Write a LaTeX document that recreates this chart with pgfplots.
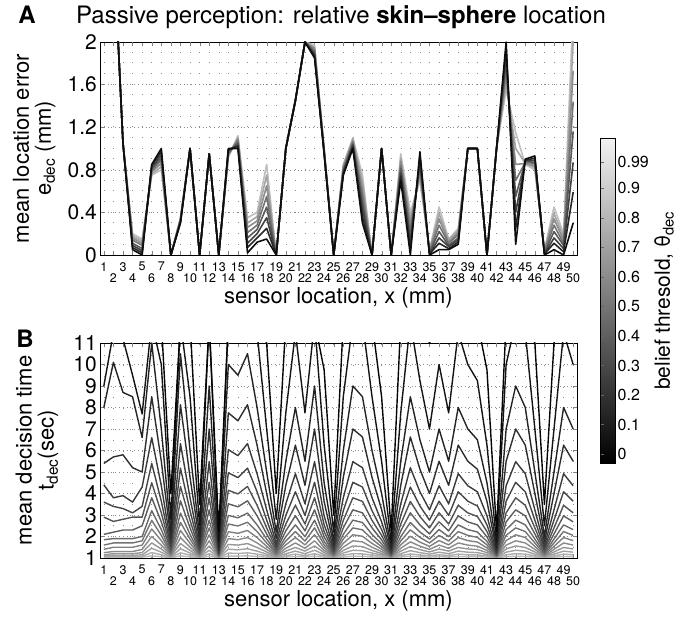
\documentclass[border=0pt]{standalone}
\usepackage{fontspec}
\setmainfont{TeX Gyre Heros}
\usepackage{pgfplots}
\pgfplotsset{compat=1.18}
\usepackage{pgfplotstable}

\pgfplotstableread{
x a0 a1 a2 a3 a4 a5 a6 a7
1 3 3 3 3 3 3 3 3
2 2.95 2.95 2.95 2.95 2.95 2.95 2.95 2.95
3 1.05 1.05 1.05 1.05 1.05 1.05 1.05 1.05
4 .20 .18 .16 .14 .11 .09 .07 .05
5 .15 .13 .11 .09 .06 .04 .02 0
6 .75 .76 .78 .79 .81 .82 .84 .85
7 .80 .83 .86 .89 .91 .94 .97 1.0
8 0 0 0 0 0 0 0 0
9 .35 .34 .34 .33 .32 .31 .31 .30
10 1 1 1 1 1 1 1 1
11 0 0 0 0 0 0 0 0
12 .95 .95 .95 .95 .95 .95 .95 .95
13 0 0 0 0 0 0 0 0
14 .92 .93 .94 .95 .97 .98 .99 1.0
15 1.12 1.10 1.09 1.07 1.05 1.03 1.02 1.0
16 .35 .30 .26 .21 .16 .11 .07 .02
17 .40 .36 .32 .28 .24 .20 .16 .12
18 .85 .75 .65 .55 .45 .35 .25 .15
19 0 0 0 0 0 0 0 0
20 1 1 1 1 1 1 1 1
21 1.45 1.45 1.45 1.45 1.45 1.45 1.45 1.45
22 2 2 2 2 2 2 2 2
23 1.97 1.95 1.94 1.92 1.90 1.88 1.87 1.85
24 1.0 .99 .99 .98 .97 .96 .96 .95
25 0 0 0 0 0 0 0 0
26 .85 .84 .82 .81 .79 .78 .76 .75
27 1.10 1.09 1.07 1.06 1.04 1.03 1.01 1.0
28 .75 .69 .62 .56 .49 .43 .36 .30
29 0 0 0 0 0 0 0 0
30 1 1 1 1 1 1 1 1
31 0 0 0 0 0 0 0 0
32 .95 .91 .88 .84 .81 .77 .74 .70
33 .40 .34 .29 .23 .17 .11 .06 0
34 .70 .74 .78 .82 .85 .89 .93 .97
35 .05 .04 .04 .03 .02 .01 .01 0
36 .45 .39 .34 .28 .22 .16 .11 .05
37 .15 .14 .12 .11 .09 .08 .06 .05
38 .25 .23 .21 .19 .16 .14 .12 .10
39 1 1 1 1 1 1 1 1
40 1 1 1 1 1 1 1 1
41 0 0 0 0 0 0 0 0
42 1 1 1 1 1 1 1 1
43 1.55 1.61 1.68 1.74 1.81 1.87 1.94 2.0
44 1.15 1.0 .85 .70 .55 .40 .25 .10
45 .85 .86 .86 .87 .88 .89 .89 .90
46 .80 .82 .84 .86 .87 .89 .91 .93
47 .05 .04 .04 .03 .02 .01 .01 0
48 .45 .39 .34 .28 .22 .16 .11 .05
49 .20 .17 .14 .11 .09 .06 .03 0
50 2.3 2.01 1.73 1.44 1.16 .87 .59 .30
}\tA

\pgfplotstableread{
x b0 b1 b2 b3 b4 b5 b6 b7 b8 b9 b10 b11 b12 b13 b14 b15
1 1.03 1.06 1.1 1.15 1.25 1.4 1.6 1.85 2.1 2.9 3.6 4.4 5.4 8.0 9.0 12
2 1.03 1.07 1.12 1.2 1.3 1.5 1.7 1.9 2.2 2.7 3.4 3.8 5.7 10.1 11.5 12
3 1.03 1.07 1.12 1.2 1.3 1.5 1.7 1.9 2.3 2.8 3.3 3.9 5.8 8.7 11.2 12
4 1.03 1.07 1.12 1.2 1.3 1.5 1.7 1.9 2.3 2.9 3.1 3.6 5.2 8.5 9.5 12
5 1.04 1.08 1.15 1.25 1.4 1.6 1.8 2.0 2.5 2.9 3.4 4.3 5.0 6.6 7.7 12
6 1.1 1.25 1.45 1.7 2.0 2.35 2.75 3.2 3.8 4.5 5.4 6.6 8.5 11 12 12
7 1.06 1.15 1.27 1.42 1.6 1.81 2.05 2.32 2.68 3.1 3.64 4.36 5.5 7 10 12
8 1.01 1.03 1.05 1.08 1.12 1.16 1.21 1.26 1.34 1.42 1.53 1.67 1.9 2.2 2.8 4
9 1.1 1.24 1.43 1.67 1.95 2.28 2.66 3.09 3.66 4.33 5.18 6.32 8.13 10.5 12 12
10 1.05 1.13 1.23 1.35 1.5 1.68 1.88 2.1 2.4 2.75 3.2 3.8 4.75 6 8.5 12
11 1.01 1.03 1.05 1.07 1.1 1.14 1.18 1.22 1.28 1.35 1.44 1.56 1.75 2 2.5 3.5
12 1.08 1.2 1.36 1.56 1.8 2.08 2.4 2.76 3.24 3.8 4.52 5.48 7 9 12 12
13 1.01 1.01 1.02 1.04 1.05 1.07 1.09 1.11 1.14 1.18 1.22 1.28 1.38 1.5 1.75 2.25
14 1.09 1.23 1.41 1.63 1.9 2.22 2.58 2.98 3.52 4.15 4.96 6.04 7.75 10 12 12
15 1.09 1.21 1.38 1.6 1.85 2.15 2.49 2.87 3.38 3.98 4.74 5.76 7.38 9.5 12 12
16 1.1 1.24 1.43 1.67 1.95 2.28 2.66 3.09 3.66 4.33 5.18 6.32 8.13 10.5 12 12
17 1.07 1.18 1.32 1.49 1.7 1.95 2.23 2.54 2.96 3.45 4.08 4.92 6.25 8 11.5 12
18 1.04 1.1 1.18 1.28 1.4 1.54 1.7 1.88 2.12 2.4 2.76 3.24 4 5 7 11
19 1.01 1.03 1.05 1.08 1.12 1.16 1.21 1.26 1.34 1.42 1.53 1.67 1.9 2.2 2.8 4
20 1.05 1.11 1.2 1.32 1.45 1.61 1.79 1.99 2.26 2.58 2.98 3.52 4.38 5.5 7.75 12
21 1.07 1.18 1.32 1.49 1.7 1.95 2.23 2.54 2.96 3.45 4.08 4.92 6.25 8 11.5 12
22 1.05 1.11 1.2 1.32 1.45 1.61 1.79 1.99 2.26 2.58 2.98 3.52 4.38 5.5 7.75 12
23 1.08 1.2 1.36 1.56 1.8 2.08 2.4 2.76 3.24 3.8 4.52 5.48 7 9 12 12
24 1.04 1.09 1.16 1.25 1.35 1.47 1.61 1.77 1.98 2.23 2.54 2.96 3.63 4.5 6.25 9.75
25 1.01 1.02 1.04 1.06 1.08 1.11 1.14 1.18 1.22 1.28 1.35 1.45 1.6 1.8 2.2 3
26 1.05 1.13 1.23 1.35 1.5 1.68 1.88 2.1 2.4 2.75 3.2 3.8 4.75 6 8.5 12
27 1.08 1.2 1.36 1.56 1.8 2.08 2.4 2.76 3.24 3.8 4.52 5.48 7 9 12 12
28 1.08 1.19 1.34 1.53 1.75 2.01 2.31 2.65 3.1 3.63 4.3 5.2 6.63 8.5 12 12
29 1.05 1.13 1.23 1.35 1.5 1.68 1.88 2.1 2.4 2.75 3.2 3.8 4.75 6 8.5 12
30 1.03 1.08 1.14 1.21 1.3 1.41 1.53 1.66 1.84 2.05 2.32 2.68 3.25 4 5.5 8.5
31 1.01 1.01 1.02 1.04 1.05 1.07 1.09 1.11 1.14 1.18 1.22 1.28 1.38 1.5 1.75 2.25
32 1.05 1.11 1.2 1.32 1.45 1.61 1.79 1.99 2.26 2.58 2.98 3.52 4.38 5.5 7.75 12
33 1.08 1.19 1.34 1.53 1.75 2.01 2.31 2.65 3.1 3.63 4.3 5.2 6.63 8.5 12 12
34 1.06 1.14 1.25 1.39 1.55 1.74 1.96 2.21 2.54 2.93 3.42 4.08 5.13 6.5 9.25 12
35 1.04 1.1 1.18 1.28 1.4 1.54 1.7 1.88 2.12 2.4 2.76 3.24 4 5 7 11
36 1.06 1.15 1.27 1.42 1.6 1.81 2.05 2.32 2.68 3.1 3.64 4.36 5.5 7 10 12
37 1.05 1.11 1.2 1.32 1.45 1.61 1.79 1.99 2.26 2.58 2.98 3.52 4.38 5.5 7.75 12
38 1.07 1.18 1.32 1.49 1.7 1.95 2.23 2.54 2.96 3.45 4.08 4.92 6.25 8 11.5 12
39 1.06 1.15 1.27 1.42 1.6 1.81 2.05 2.32 2.68 3.1 3.64 4.36 5.5 7 10 12
40 1.06 1.14 1.25 1.39 1.55 1.74 1.96 2.21 2.54 2.93 3.42 4.08 5.13 6.5 9.25 12
41 1.04 1.09 1.16 1.25 1.35 1.47 1.61 1.77 1.98 2.23 2.54 2.96 3.63 4.5 6.25 9.75
42 1.01 1.01 1.02 1.04 1.05 1.07 1.09 1.11 1.14 1.18 1.22 1.28 1.38 1.5 1.75 2.25
43 1.06 1.15 1.27 1.42 1.6 1.81 2.05 2.32 2.68 3.1 3.64 4.36 5.5 7 10 12
44 1.08 1.2 1.36 1.56 1.8 2.08 2.4 2.76 3.24 3.8 4.52 5.48 7 9 12 12
45 1.07 1.18 1.32 1.49 1.7 1.95 2.23 2.54 2.96 3.45 4.08 4.92 6.25 8 11.5 12
46 1.04 1.1 1.18 1.28 1.4 1.54 1.7 1.88 2.12 2.4 2.76 3.24 4 5 7 11
47 1.01 1.03 1.05 1.07 1.1 1.14 1.18 1.22 1.28 1.35 1.44 1.56 1.75 2 2.5 3.5
48 1.04 1.1 1.18 1.28 1.4 1.54 1.7 1.88 2.12 2.4 2.76 3.24 4 5 7 11
49 1.07 1.18 1.32 1.49 1.7 1.95 2.23 2.54 2.96 3.45 4.08 4.92 6.25 8 11.5 12
50 1.06 1.15 1.27 1.42 1.6 1.81 2.05 2.32 2.68 3.1 3.64 4.36 5.5 7 10 12
}\tB

\newcommand\fs[1]{\fontsize{#1}{#1}\selectfont}

\pgfplotsset{
  common/.style={
    scale only axis, width=477pt,
    xmin=0.6, xmax=50.4,
    xtick={1,3,...,49},
    extra x ticks={2,4,...,50},
    extra x tick style={grid=major, xticklabel style={yshift=-11pt}},
    tick align=inside, tick pos=both,
    major tick length=4pt,
    grid=major,
    major x grid style={black!45, line width=0.5pt, dash pattern=on 0.8pt off 9.85pt},
    major y grid style={black!45, line width=0.5pt, dash pattern=on 0.8pt off 3pt},
    /pgf/number format/assume math mode=true,
    xticklabel style={font=\fs{12.5}, inner xsep=0pt, inner ysep=1pt, yshift=-6pt},
    yticklabel style={font=\fs{21}, inner sep=1pt, xshift=-2pt},
    label style={font=\fs{22}},
    xlabel={sensor location, x (mm)},
    xlabel style={at={(axis description cs:0.5,0)}, anchor=center, yshift=-43pt},
    axis line style={line width=0.8pt},
    every axis plot/.append style={line join=round},
  }
}

\begin{document}
\begin{tikzpicture}
\useasboundingbox (0,0) rectangle (678pt,620pt);

\begin{axis}[common,
  at={(100pt,365pt)}, anchor=south west, height=213pt,
  ymin=0, ymax=2, ytick={0,0.4,0.8,1.2,1.6,2},
  ylabel={mean location error\\e\textsubscript{dec} (mm)},
  ylabel style={at={(axis description cs:-0.138,0.5)}, anchor=center, align=center, font=\fs{22}},
  colormap={bw}{gray(0cm)=(0); gray(1cm)=(0.95)},
  point meta min=-0.03, point meta max=1.07,
  colorbar,
  colorbar style={
    at={(parent axis.north east)}, anchor=north west,
    xshift=15pt, yshift=-96pt,
    scale only axis, width=15pt, height=325pt,
    grid=none, extra x ticks={}, extra y ticks={},
    xtick=\empty, minor tick num=0,
    ytick={0,0.1,0.2,0.3,0.4,0.5,0.6,0.7,0.8,0.9,0.99},
    yticklabels={0,0.1,0.2,0.3,0.4,0.5,0.6,0.7,0.8,0.9,0.99},
    yticklabel style={font=\fs{16}, inner sep=2pt, xshift=0pt},
    ytick pos=left, yticklabel pos=right,
    tick align=inside,
    major tick length=3pt,
    ytick style={black!60},
    ylabel={belief thresold, θ\textsubscript{dec}},
    ylabel style={font=\fs{21}},
    axis line style={line width=0.8pt},
  },
]
\addplot[line width=1.6pt, color=black!25] table[x=x, y=a0] {\tA};
\addplot[line width=1.6pt, color=black!35] table[x=x, y=a1] {\tA};
\addplot[line width=1.6pt, color=black!45] table[x=x, y=a2] {\tA};
\addplot[line width=1.6pt, color=black!55] table[x=x, y=a3] {\tA};
\addplot[line width=1.6pt, color=black!65] table[x=x, y=a4] {\tA};
\addplot[line width=1.6pt, color=black!75] table[x=x, y=a5] {\tA};
\addplot[line width=1.6pt, color=black!85] table[x=x, y=a6] {\tA};
\addplot[line width=1.6pt, color=black!95] table[x=x, y=a7] {\tA};
\end{axis}

\begin{axis}[common,
  at={(100pt,62pt)}, anchor=south west, height=215pt,
  ymin=1, ymax=11, ytick={1,2,...,11},
  ylabel={mean decision time\\t\textsubscript{dec}(sec)},
  ylabel style={at={(axis description cs:-0.132,0.5)}, anchor=center, align=center, font=\fs{22}},
]
\addplot[line width=1.4pt, color=black!28] table[x=x, y=b0] {\tB};
\addplot[line width=1.4pt, color=black!32] table[x=x, y=b1] {\tB};
\addplot[line width=1.4pt, color=black!37] table[x=x, y=b2] {\tB};
\addplot[line width=1.4pt, color=black!41] table[x=x, y=b3] {\tB};
\addplot[line width=1.4pt, color=black!46] table[x=x, y=b4] {\tB};
\addplot[line width=1.4pt, color=black!50] table[x=x, y=b5] {\tB};
\addplot[line width=1.4pt, color=black!55] table[x=x, y=b6] {\tB};
\addplot[line width=1.4pt, color=black!59] table[x=x, y=b7] {\tB};
\addplot[line width=1.4pt, color=black!64] table[x=x, y=b8] {\tB};
\addplot[line width=1.4pt, color=black!68] table[x=x, y=b9] {\tB};
\addplot[line width=1.4pt, color=black!73] table[x=x, y=b10] {\tB};
\addplot[line width=1.4pt, color=black!77] table[x=x, y=b11] {\tB};
\addplot[line width=1.4pt, color=black!82] table[x=x, y=b12] {\tB};
\addplot[line width=1.4pt, color=black!86] table[x=x, y=b13] {\tB};
\addplot[line width=1.4pt, color=black!92] table[x=x, y=b14] {\tB};
\addplot[line width=1.4pt, color=black!98] table[x=x, y=b15] {\tB};
\end{axis}

\node[font=\fs{24}] at (341pt,603pt) {Passive perception: relative \textbf{skin–sphere} location};
\node[font=\bfseries\fs{24}] at (27pt,605pt) {A};
\node[font=\bfseries\fs{24}] at (25pt,281pt) {B};
\end{tikzpicture}
\end{document}
